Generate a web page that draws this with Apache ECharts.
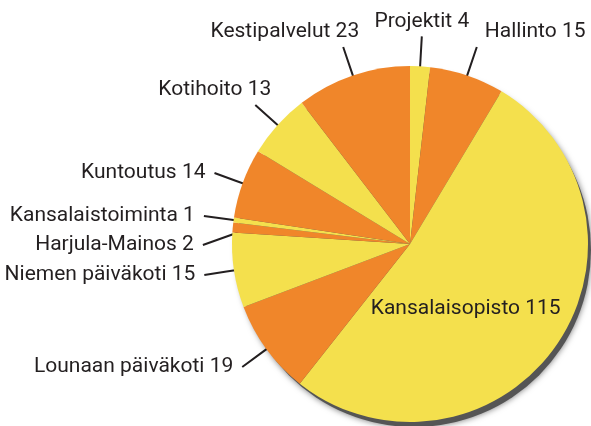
<!DOCTYPE html>
<html>
<head>
<meta charset="utf-8">
<style>
  html, body { margin: 0; padding: 0; background: #fff; }
  #chart { width: 591px; height: 426px; }
</style>
</head>
<body>
<div id="chart"></div>
<script src="https://cdn.jsdelivr.net/npm/echarts@6/dist/echarts.min.js"></script>
<script>
const names = ['Projektit', 'Hallinto', 'Kansalaisopisto', 'Lounaan päiväkoti', 'Niemen päiväkoti',
    'Harjula-Mainos', 'Kansalaistoiminta', 'Kuntoutus', 'Kotihoito', 'Kestipalvelut'];
const values = [4, 15, 115, 19, 15, 2, 1, 14, 13, 23];
const insideLabel = 'Kansalaisopisto';

const COLORS = ['#F4E04D', '#F0862A'];
const CX = 410, CY = 244, R = 178;
const INSET = 15, LINE_LEN = 30;
const LABEL_FONT = "Roboto, 'Liberation Sans', sans-serif";
const LABEL_SIZE = 21, LABEL_LH = 29;
const TEXT_COLOR = '#231F20';

const total = values.reduce((a, b) => a + b, 0);

// label spots: a radial line from inside the slice, text beside it (or above for steep lines)
function computeLabelSpots() {
    const spots = [];
    let cum = 0;
    values.forEach((v, i) => {
        const a = (cum + v / 2) / total * Math.PI * 2;
        cum += v;
        if (names[i] === insideLabel) { spots.push(null); return; }
        const dx = Math.sin(a), dy = -Math.cos(a);
        const end = [CX + dx * (R + LINE_LEN), CY + dy * (R + LINE_LEN)];
        const start = [CX + dx * (R - INSET), CY + dy * (R - INSET)];
        let s;
        if (Math.abs(dy) > 0.63) {
            const sy = dy < 0 ? -15 : 15;
            if (Math.abs(dx) < 0.15) s = { x: end[0], y: end[1] + sy, align: 'center' };
            else if (dx > 0) s = { x: end[0] + 8, y: end[1] + sy, align: 'left' };
            else s = { x: end[0] + 16, y: end[1] + sy, align: 'right' };
        } else {
            const side = dx < 0 ? -1 : 1;
            s = { x: end[0] + side * 9, y: end[1], align: side < 0 ? 'right' : 'left', side: side };
        }
        s.start = start;
        s.end = end;
        spots.push(s);
    });

    // push side labels apart vertically
    [-1, 1].forEach(side => {
        const list = spots.filter(s => s && s.side === side).sort((p, q) => p.y - q.y);
        for (let k = 1; k < list.length; k++) {
            const minY = list[k - 1].y + LABEL_LH;
            if (list[k].y < minY) {
                const shift = minY - list[k].y;
                list[k].y = minY;
                list[k].end = [list[k].end[0], list[k].end[1] + shift];
            }
        }
    });
    return spots;
}

const spots = computeLabelSpots();

const pieData = names.map((n, i) => {
    const item = { name: n, value: values[i], itemStyle: { color: COLORS[i % 2] } };
    if (n === insideLabel) {
        item.label = { position: 'inside', offset: [-20, 12] };
        item.labelLine = { show: false };
    }
    return item;
});

const chart = echarts.init(document.getElementById('chart'));
chart.setOption({
    animation: false,
    backgroundColor: '#fff',
    series: [
        {
            // drop shadow behind the pie
            type: 'pie',
            silent: true,
            center: [CX + 4, CY + 6],
            radius: R - 1,
            startAngle: 90,
            label: { show: false },
            labelLine: { show: false },
            emphasis: { disabled: true },
            itemStyle: { color: '#555555', shadowBlur: 6, shadowColor: 'rgba(0,0,0,0.55)' },
            data: [{ name: 'shadow', value: total }]
        },
        {
            type: 'pie',
            center: [CX, CY],
            radius: R,
            startAngle: 90,
            clockwise: true,
            avoidLabelOverlap: false,
            emphasis: { disabled: true },
            label: {
                show: true,
                position: 'outside',
                formatter: '{b} {c}',
                color: TEXT_COLOR,
                fontFamily: LABEL_FONT,
                fontSize: LABEL_SIZE,
                lineHeight: LABEL_LH
            },
            labelLine: {
                show: true,
                length: LINE_LEN,
                length2: 5,
                lineStyle: { color: TEXT_COLOR, width: 2 }
            },
            labelLayout: function (params) {
                const s = spots[params.dataIndex];
                if (!s) return {};
                const mid = [(s.start[0] + s.end[0]) / 2, (s.start[1] + s.end[1]) / 2];
                return {
                    x: s.x,
                    y: s.y,
                    align: s.align,
                    verticalAlign: 'middle',
                    labelLinePoints: [s.start, mid, s.end]
                };
            },
            data: pieData
        }
    ]
});
</script>
</body>
</html>
